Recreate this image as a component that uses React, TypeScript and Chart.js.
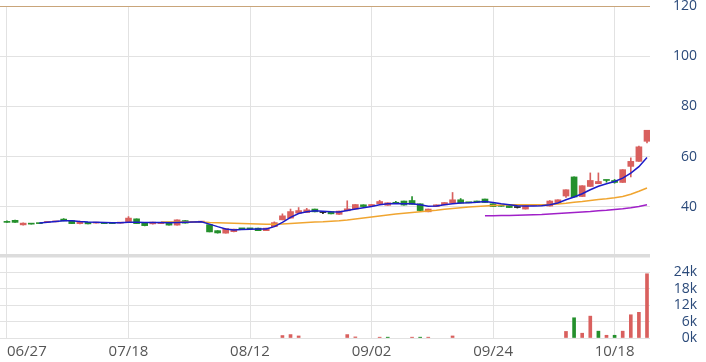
import React, { useEffect, useRef } from 'react';
import { Chart, registerables } from 'chart.js';

Chart.register(...registerables);

// Trading days (Taiwan, 2024)
const dates = [
  '06/27', '06/28',
  '07/01', '07/02', '07/03', '07/04', '07/05',
  '07/08', '07/09', '07/10', '07/11', '07/12',
  '07/15', '07/16', '07/17', '07/18', '07/19',
  '07/22', '07/23', '07/26',
  '07/29', '07/30', '07/31', '08/01', '08/02',
  '08/05', '08/06', '08/07', '08/08', '08/09',
  '08/12', '08/13', '08/14', '08/15', '08/16',
  '08/19', '08/20', '08/21', '08/22', '08/23',
  '08/26', '08/27', '08/28', '08/29', '08/30',
  '09/02', '09/03', '09/04', '09/05', '09/06',
  '09/09', '09/10', '09/11', '09/12', '09/13',
  '09/16', '09/18', '09/19', '09/20', '09/23',
  '09/24', '09/25', '09/26', '09/27', '09/30',
  '10/01', '10/04', '10/07', '10/08', '10/09',
  '10/11', '10/14', '10/15', '10/16', '10/17',
  '10/18', '10/21', '10/22', '10/23', '10/24',
];

const xTickLabels = ['06/27', '07/18', '08/12', '09/02', '09/24', '10/18'];

const open = [
  33.9, 34.6, 32.8, 33.2, 33.4, 33.8, 34.0, 35.1, 34.5, 33.3,
  33.8, 33.5, 33.7, 33.6, 33.5, 34.1, 35.2, 33.7, 33.2, 33.3,
  33.9, 32.7, 34.5, 33.8, 33.9, 32.9, 30.5, 29.5, 30.1, 31.3,
  31.3, 31.5, 30.5, 32.1, 34.8, 35.5, 37.5, 37.7, 39.1, 37.7,
  38.1, 37.0, 38.4, 39.1, 40.8, 40.4, 41.2, 40.6, 41.5, 42.3,
  42.5, 41.2, 38.0, 40.1, 40.8, 41.5, 42.8, 41.7, 42.3, 43.1,
  41.2, 40.3, 40.5, 39.7, 39.1, 40.5, 40.5, 40.3, 41.7, 44.3,
  51.9, 44.1, 48.1, 49.2, 50.6, 50.5, 49.7, 56.1, 58.1, 66.1,
];
const high = [
  34.4, 34.7, 33.6, 33.2, 33.4, 34.0, 34.2, 35.3, 34.5, 34.3,
  33.8, 33.7, 33.7, 33.6, 33.7, 36.1, 35.2, 33.7, 33.9, 33.5,
  33.9, 34.8, 34.5, 34.2, 34.1, 32.9, 30.5, 31.3, 31.1, 31.3,
  31.3, 31.5, 31.5, 34.0, 37.2, 39.1, 39.7, 39.4, 39.1, 38.1,
  38.1, 38.3, 42.4, 40.9, 40.8, 41.0, 42.6, 41.6, 42.2, 42.3,
  44.1, 41.2, 39.1, 40.8, 41.7, 45.7, 43.3, 41.7, 42.3, 43.1,
  41.2, 40.3, 40.5, 39.9, 40.4, 40.7, 40.6, 42.5, 42.8, 46.8,
  51.9, 48.4, 53.5, 53.5, 50.6, 50.9, 54.8, 59.5, 64.2, 70.5,
];
const low = [
  33.8, 33.8, 32.7, 33.1, 33.3, 33.8, 34.0, 34.4, 33.3, 33.2,
  33.2, 33.5, 33.3, 33.3, 33.5, 34.0, 33.3, 32.4, 33.1, 33.3,
  32.7, 32.7, 33.5, 33.8, 33.9, 30.0, 29.5, 29.5, 30.0, 31.2,
  31.2, 30.5, 30.5, 32.1, 34.8, 35.5, 37.5, 37.7, 38.0, 37.3,
  37.2, 37.0, 38.4, 39.1, 40.1, 40.4, 41.2, 40.6, 41.4, 40.7,
  41.0, 38.5, 38.0, 40.1, 40.8, 41.5, 41.5, 41.6, 41.8, 41.7,
  40.1, 40.2, 39.7, 39.5, 39.1, 40.5, 40.5, 40.3, 41.7, 43.7,
  43.9, 44.1, 48.1, 49.2, 49.8, 49.4, 49.7, 51.9, 58.1, 65.5,
];
const close = [
  33.8, 33.8, 33.5, 33.1, 33.3, 34.0, 34.2, 34.4, 33.3, 34.2,
  33.2, 33.7, 33.3, 33.3, 33.7, 35.5, 33.3, 32.5, 33.9, 33.5,
  32.7, 34.8, 33.5, 34.2, 34.1, 30.0, 29.6, 31.3, 31.1, 31.2,
  31.2, 30.5, 31.5, 33.7, 36.4, 38.1, 38.5, 38.8, 38.0, 37.7,
  37.2, 38.3, 39.2, 40.9, 40.1, 40.9, 42.1, 41.6, 41.4, 40.7,
  41.0, 38.5, 39.1, 40.8, 41.7, 42.8, 41.5, 41.6, 41.8, 41.7,
  40.1, 40.2, 39.7, 39.7, 40.4, 40.7, 40.6, 42.3, 42.8, 46.8,
  43.9, 48.4, 50.5, 50.1, 50.5, 49.7, 54.8, 58.1, 63.9, 70.5,
];

// Volume in shares
const volume = [
  0, 0, 0, 0, 0, 0, 0, 0, 0, 0,
  0, 0, 0, 0, 0, 0, 0, 0, 0, 0,
  0, 0, 0, 0, 0, 0, 0, 0, 0, 0,
  0, 0, 0, 0, 900, 1250, 750, 0, 0, 0,
  0, 0, 1250, 400, 0, 0, 300, 300, 0, 0,
  300, 300, 300, 0, 0, 750, 0, 0, 0, 0,
  0, 0, 0, 0, 0, 0, 0, 0, 0, 2400,
  7400, 1750, 8000, 2500, 1000, 1000, 2500, 8500, 9400, 23500,
];

// Moving averages (first value index noted)
const ma5Start = 4;
const ma5 = [
  33.5, 33.8, 34.1, 34.4, 34.4, 34.1, 33.9, 33.8, 33.7, 33.6,
  33.6, 33.8, 33.8, 33.7, 33.7, 33.7, 33.6, 33.7, 33.8, 33.9,
  34.0, 33.1, 32.1, 31.2, 30.8, 31.0, 31.1, 31.2, 31.2, 32.1,
  33.8, 35.8, 37.3, 38.0, 38.4, 38.2, 38.0, 37.9, 38.5, 39.1,
  39.6, 40.1, 40.8, 41.2, 41.3, 41.2, 41.2, 40.8, 40.2, 40.3,
  40.8, 41.2, 41.5, 41.6, 41.8, 42.1, 41.7, 41.2, 40.8, 40.4,
  40.3, 40.3, 40.4, 40.8, 41.5, 42.8, 43.9, 45.2, 46.8, 48.2,
  49.2, 50.1, 51.4, 53.4, 56.0, 59.6,
];
const ma20Start = 19;
const ma20 = [
  33.9, 33.9, 33.9, 33.9, 33.9, 33.9, 33.7, 33.6, 33.5, 33.4,
  33.3, 33.2, 33.1, 33.0, 33.0, 33.1, 33.3, 33.5, 33.7, 33.9,
  34.0, 34.2, 34.4, 34.7, 35.1, 35.5, 35.9, 36.3, 36.7, 37.1,
  37.4, 37.7, 38.0, 38.3, 38.6, 39.0, 39.3, 39.6, 39.9, 40.1,
  40.3, 40.5, 40.7, 40.8, 40.8, 40.8, 40.8, 40.8, 40.9, 41.1,
  41.4, 41.8, 42.1, 42.5, 42.9, 43.2, 43.6, 44.1, 45.0, 46.2,
  47.5,
];
const ma60Start = 59;
const ma60 = [
  36.4, 36.4, 36.5, 36.5, 36.6, 36.7, 36.8, 36.9, 37.1, 37.3,
  37.5, 37.7, 37.9, 38.1, 38.4, 38.6, 38.9, 39.2, 39.6, 40.1,
  40.8,
];

const priceTicks = [40, 60, 80, 100, 120];
const volumeTicks = [0, 6000, 12000, 18000, 24000, 30000];

const UP = '#d9605e';
const DOWN = '#24902c';
const FLAT = '#222222';
const GRID = '#e2e2e2';

export default function App() {
  const ref = useRef<HTMLCanvasElement>(null);

  useEffect(() => {
    document.body.style.margin = '0';
    const canvas = ref.current;
    if (!canvas) return;

    const candleColor = dates.map((_, i) =>
      close[i] > open[i] ? UP : close[i] < open[i] ? DOWN : FLAT
    );
    const volColor = dates.map((_, i) => {
      const prev = i > 0 ? close[i - 1] : open[i];
      return close[i] >= prev ? UP : DOWN;
    });
    const tickIdx = xTickLabels.map((l) => dates.indexOf(l));

    const line = (arr: number[], start: number, color: string) => ({
      type: 'line' as const,
      data: arr.map((v, k) => ({ x: start + k, y: v })),
      borderColor: color,
      borderWidth: 1.5,
      pointRadius: 0,
      tension: 0,
      yAxisID: 'y',
      xAxisID: 'x',
      order: 0,
    });

    const xMin = -0.86;
    const xMax = 79.37;

    const chart = new Chart(canvas, {
      type: 'bar',
      data: {
        datasets: [
          line(ma5, ma5Start, '#1c1cc8') as any,
          line(ma20, ma20Start, '#f0a530') as any,
          line(ma60, ma60Start, '#a020c8') as any,
          {
            type: 'bar',
            data: dates.map((_, i) => ({ x: i, y: [open[i], close[i]] })),
            backgroundColor: candleColor,
            barThickness: 6,
            minBarLength: 1,
            grouped: false,
            yAxisID: 'y',
            xAxisID: 'x',
            order: 1,
          } as any,
          {
            type: 'bar',
            data: dates.map((_, i) => ({ x: i, y: [low[i], high[i]] })),
            backgroundColor: candleColor,
            barThickness: 1,
            grouped: false,
            yAxisID: 'y',
            xAxisID: 'x',
            order: 2,
          } as any,
          {
            type: 'bar',
            data: dates.map((_, i) => ({ x: i, y: volume[i] > 0 ? volume[i] : null })),
            backgroundColor: volColor,
            barThickness: 3,
            grouped: false,
            yAxisID: 'yVol',
            xAxisID: 'x',
            order: 1,
          } as any,
        ],
      },
      options: {
        animation: false,
        responsive: false,
        devicePixelRatio: 1,
        layout: { padding: { top: 6, right: 9, bottom: 0, left: 0 } },
        plugins: { legend: { display: false }, tooltip: { enabled: false } },
        scales: {
          x: {
            type: 'linear',
            min: xMin,
            max: xMax,
            offset: false,
            border: { display: false },
            grid: {
              offset: false,
              drawTicks: false,
              color: (ctx: any) =>
                ctx.tick && ctx.tick.value > 79 ? 'rgba(0,0,0,0)' : GRID,
            },
            afterBuildTicks: (scale: any) => {
              scale.ticks = tickIdx
                .map((v) => ({ value: v }))
                .concat([{ value: xMax }]);
            },
            afterFit: (scale: any) => {
              scale.height = 24;
              scale.paddingLeft = 0;
              scale.paddingRight = 0;
            },
            ticks: {
              autoSkip: false,
              maxRotation: 0,
              minRotation: 0,
              align: 'inner',
              padding: 5,
              color: '#555555',
              font: { family: 'Open Sans', size: 15 },
              callback: (v: any) => (Number.isInteger(v) ? dates[v] ?? '' : ''),
            },
          } as any,
          y: {
            type: 'linear',
            position: 'right',
            stack: 'panels',
            stackWeight: 250,
            min: 20.4,
            max: 120,
            border: { display: false },
            grid: {
              drawTicks: false,
              color: (ctx: any) =>
                ctx.tick && ctx.tick.value === 120 ? '#c9a57a' : GRID,
            },
            afterBuildTicks: (scale: any) => {
              scale.ticks = priceTicks.map((v) => ({ value: v }));
            },
            afterFit: (scale: any) => {
              scale.width = 47;
              scale.paddingTop = 0;
              scale.paddingBottom = 0;
            },
            ticks: {
              autoSkip: false,
              crossAlign: 'far',
              padding: 22,
              color: '#2b4a7a',
              font: { family: 'Open Sans', size: 14 },
              callback: (v: any) => String(v),
            },
          } as any,
          yVol: {
            type: 'linear',
            position: 'right',
            stack: 'panels',
            stackWeight: 82,
            min: 0,
            max: 30000,
            border: { display: false },
            grid: {
              drawTicks: false,
              color: (ctx: any) =>
                ctx.tick && ctx.tick.value === 30000 ? '#dcdcdc' : GRID,
              lineWidth: (ctx: any) =>
                ctx.tick && ctx.tick.value === 30000 ? 3.5 : 1,
            },
            afterBuildTicks: (scale: any) => {
              scale.ticks = volumeTicks.map((v) => ({ value: v }));
            },
            afterFit: (scale: any) => {
              scale.width = 47;
              scale.paddingTop = 0;
              scale.paddingBottom = 0;
            },
            ticks: {
              autoSkip: false,
              crossAlign: 'far',
              padding: 24,
              color: '#2b4a7a',
              font: { family: 'Open Sans', size: 14 },
              callback: (v: any) => (v >= 30000 ? '' : `${v / 1000}k`),
            },
          } as any,
        },
      },
    });

    return () => chart.destroy();
  }, []);

  return (
    <div style={{ position: 'relative', width: 706, height: 362 }}>
      <canvas ref={ref} width={706} height={362} style={{ display: 'block' }} />
    </div>
  );
}
